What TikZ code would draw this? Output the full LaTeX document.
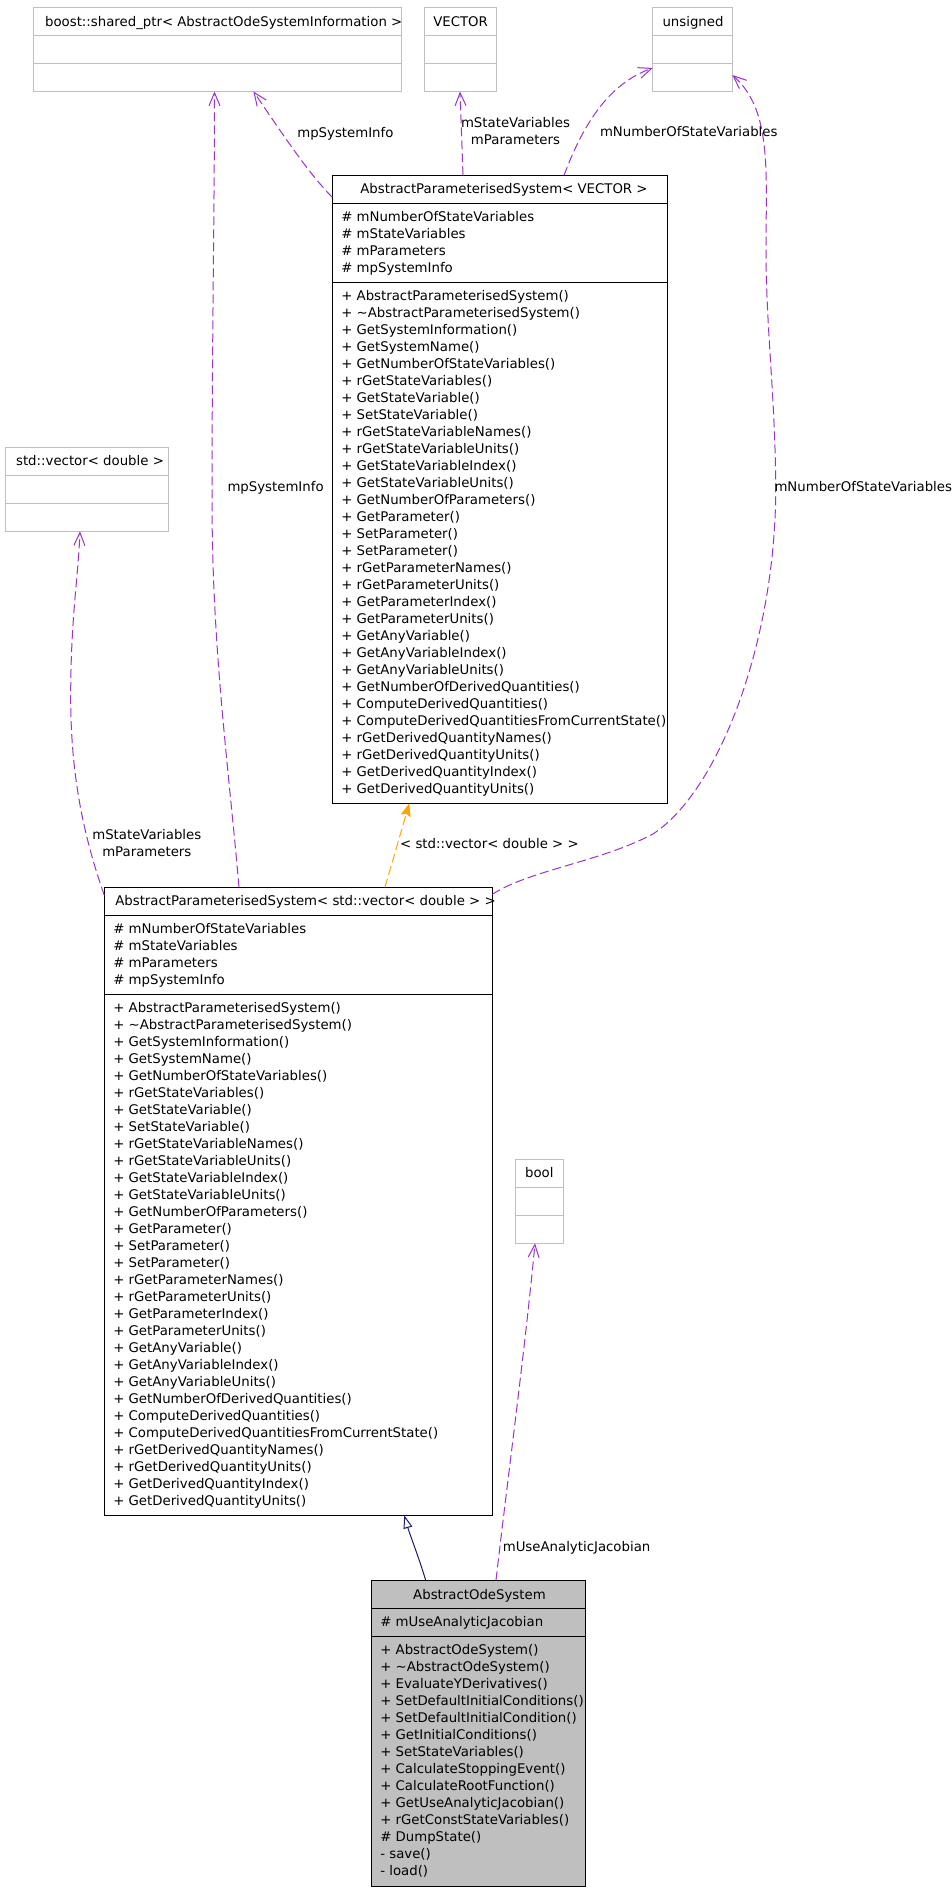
\documentclass[tikz,border=0pt]{standalone}
\usepackage{fontspec}
\setmainfont{DejaVu Sans}
\usetikzlibrary{arrows.meta,calc}
\definecolor{usecol}{HTML}{9A32CD}
\definecolor{tmplcol}{HTML}{FFA500}
\definecolor{inhcol}{HTML}{191970}
\definecolor{boxgray}{HTML}{BFBFBF}
\newcommand\apsattrs{\# mNumberOfStateVariables,\# mStateVariables,\# mParameters,\# mpSystemInfo}
\newcommand\apsmethods{+ AbstractParameterisedSystem(),+ \textasciitilde AbstractParameterisedSystem(),+ GetSystemInformation(),+ GetSystemName(),+ GetNumberOfStateVariables(),+ rGetStateVariables(),+ GetStateVariable(),+ SetStateVariable(),+ rGetStateVariableNames(),+ rGetStateVariableUnits(),+ GetStateVariableIndex(),+ GetStateVariableUnits(),+ GetNumberOfParameters(),+ GetParameter(),+ SetParameter(),+ SetParameter(),+ rGetParameterNames(),+ rGetParameterUnits(),+ GetParameterIndex(),+ GetParameterUnits(),+ GetAnyVariable(),+ GetAnyVariableIndex(),+ GetAnyVariableUnits(),+ GetNumberOfDerivedQuantities(),+ ComputeDerivedQuantities(),+ ComputeDerivedQuantitiesFromCurrentState(),+ rGetDerivedQuantityNames(),+ rGetDerivedQuantityUnits(),+ GetDerivedQuantityIndex(),+ GetDerivedQuantityUnits()}
\newcommand\aosmethods{+ AbstractOdeSystem(),+ \textasciitilde AbstractOdeSystem(),+ EvaluateYDerivatives(),+ SetDefaultInitialConditions(),+ SetDefaultInitialCondition(),+ GetInitialConditions(),+ SetStateVariables(),+ CalculateStoppingEvent(),+ CalculateRootFunction(),+ GetUseAnalyticJacobian(),+ rGetConstStateVariables(),\# DumpState(),- save(),- load()}
\begin{document}
\begin{tikzpicture}[x=1pt,y=-1pt,
  every node/.style={font=\fontsize{13.3}{17}\selectfont, inner sep=0pt, outer sep=0pt},
  txt/.style={anchor=base west},
  ctxt/.style={anchor=base},
  extbox/.style={draw=boxgray, line width=1pt, anchor=north west, minimum height=84pt},
  clsbox/.style={draw=black, line width=1pt, anchor=north west},
  sepgray/.style={draw=boxgray, line width=1pt},
  sepblack/.style={draw=black, line width=1pt},
  useedge/.style={draw=usecol, line width=1pt, dash pattern=on 9pt off 4pt,
    -{Straight Barb[length=13pt,width=11pt,line width=1pt]}},
  tmpledge/.style={draw=tmplcol, line width=1pt, dash pattern=on 9pt off 4pt,
    -{Stealth[length=13pt,width=10pt,inset=2pt,fill=tmplcol]}},
  inhedge/.style={draw=inhcol, line width=1pt,
    -{Triangle[open,length=13pt,width=9pt,fill=white]}}
]
\fill[white] (0,0) rectangle (951,1891);
\useasboundingbox (0,0) rectangle (951,1891);

% ---- external type boxes
\node[extbox, minimum width=367.6pt] (boost) at (33.5,7.5) {};
\node[extbox, minimum width=72.3pt] (vec) at (424.2,7.5) {};
\node[extbox, minimum width=79.6pt] (uns) at (652.7,7.5) {};
\node[extbox, minimum width=163pt] (stdv) at (5.3,447.3) {};
\node[extbox, minimum width=48pt] (bool) at (515.3,1159.3) {};
\foreach \b in {boost,vec,uns,stdv,bool}{
  \draw[sepgray] ($(\b.north west)+(0,28)$) -- ($(\b.north east)+(0,28)$);
  \draw[sepgray] ($(\b.north west)+(0,56)$) -- ($(\b.north east)+(0,56)$);
}
\node[ctxt] (boostT) at (223.7,26) {boost::shared\_ptr< AbstractOdeSystemInformation >};
\node[ctxt] (vecT) at (460.6,26) {VECTOR};
\node[ctxt] (unsT) at (693,26) {unsigned};
\node[ctxt] (stdvT) at (90,465.8) {std::vector< double >};
\node[ctxt] (boolT) at (539.3,1177.5) {bool};

% ---- AbstractParameterisedSystem< VECTOR >
\node[clsbox, minimum width=335pt, minimum height=628pt] (apsV) at (332.3,175.3) {};
\draw[sepblack] ($(apsV.north west)+(0,28)$) -- ($(apsV.north east)+(0,28)$);
\draw[sepblack] ($(apsV.north west)+(0,107)$) -- ($(apsV.north east)+(0,107)$);
\node[ctxt] (apsVT) at (504,193.8) {AbstractParameterisedSystem< VECTOR >};
\foreach \t [count=\i] in \apsattrs
  \node[txt] (apsVa\i) at ($(apsV.north west)+(9,{46+17*(\i-1)})$) {\t};
\foreach \t [count=\i] in \apsmethods
  \node[txt] (apsVm\i) at ($(apsV.north west)+(9,{125+17*(\i-1)})$) {\t};

% ---- AbstractParameterisedSystem< std::vector< double > >
\node[clsbox, minimum width=388pt, minimum height=628pt] (apsD) at (104.3,887.3) {};
\draw[sepblack] ($(apsD.north west)+(0,28)$) -- ($(apsD.north east)+(0,28)$);
\draw[sepblack] ($(apsD.north west)+(0,107)$) -- ($(apsD.north east)+(0,107)$);
\node[ctxt] (apsDT) at (305.5,905.5) {AbstractParameterisedSystem< std::vector< double > >};
\foreach \t [count=\i] in \apsattrs
  \node[txt] (apsDa\i) at ($(apsD.north west)+(9,{46+17*(\i-1)})$) {\t};
\foreach \t [count=\i] in \apsmethods
  \node[txt] (apsDm\i) at ($(apsD.north west)+(9,{125+17*(\i-1)})$) {\t};

% ---- AbstractOdeSystem
\node[clsbox, fill=boxgray, minimum width=214pt, minimum height=306pt] (aos) at (371.3,1580.3) {};
\draw[sepblack] ($(aos.north west)+(0,28)$) -- ($(aos.north east)+(0,28)$);
\draw[sepblack] ($(aos.north west)+(0,56)$) -- ($(aos.north east)+(0,56)$);
\node[ctxt] (aosT) at (479.5,1599.3) {AbstractOdeSystem};
\node[txt] (aosa1) at ($(aos.north west)+(9,46)$) {\# mUseAnalyticJacobian};
\foreach \t [count=\i] in \aosmethods
  \node[txt] (aosm\i) at ($(aos.north west)+(9,{74+17*(\i-1)})$) {\t};

% ---- connectors
% apsD -> boost (mpSystemInfo)
\draw[useedge] ($(apsD.north west)+(134.7,0)$) .. controls (229,770) and (212,650) .. (212,500)
  .. controls (212,350) and (214.5,200) .. ($(boost.south west)+(181,0)$);
\node[txt] (l1) at (227.5,491.8) {mpSystemInfo};
% apsV -> boost (mpSystemInfo)
\draw[useedge] ($(apsV.north west)+(0,22)$) .. controls (305,170) and (270,115) .. ($(boost.south west)+(219.9,0)$);
\node[txt] (l2) at (297.3,137) {mpSystemInfo};
% apsV -> VECTOR
\draw[useedge] ($(apsV.north west)+(130.7,0)$) -- ($(vec.south west)+(35.8,0)$);
\node[ctxt] (l3a) at (515.5,127.5) {mStateVariables};
\node[ctxt] (l3b) at (515.5,144.8) {mParameters};
% apsV -> unsigned
\draw[useedge] ($(apsV.north west)+(231.7,0)$) .. controls (583,125) and (608,84) .. ($(uns.north west)+(0,60.5)$);
\node[txt] (l4) at (600,136.8) {mNumberOfStateVariables};
% apsD -> unsigned
\draw[useedge] ($(apsD.north east)+(0,7)$) .. controls (530,870) and (600,862) .. (653,834)
  .. controls (720,790) and (775,640) .. (775.7,492)
  .. controls (775.7,400) and (766,330) .. (766,250)
  .. controls (766,170) and (772,110) .. ($(uns.north east)+(0,67.5)$);
\node[txt] (l5) at (774.5,491.8) {mNumberOfStateVariables};
% apsD -> std::vector
\draw[useedge] ($(apsD.north west)+(0,8)$) .. controls (85,840) and (71,780) .. (70.7,700)
  .. controls (70.5,620) and (78,580) .. ($(stdv.south west)+(74.7,0)$);
\node[ctxt] (l6a) at (146.8,839) {mStateVariables};
\node[ctxt] (l6b) at (146.8,856.3) {mParameters};
% apsD -> apsV (template instance)
\draw[tmpledge] ($(apsD.north west)+(280.7,0)$) -- ($(apsV.south west)+(77,0)$);
\node[txt] (l7) at (400.2,848) {< std::vector< double > >};
% aos -> apsD (inheritance)
\draw[inhedge] ($(aos.north west)+(54.4,0)$) .. controls (418,1555) and (410,1535) .. ($(apsD.south west)+(300,0)$);
% aos -> bool
\draw[useedge] ($(aos.north west)+(124.7,0)$) .. controls (505,1500) and (525,1350) .. ($(bool.south west)+(19.7,0)$);
\node[txt] (l8) at (502.8,1551.5) {mUseAnalyticJacobian};
\end{tikzpicture}
\end{document}
